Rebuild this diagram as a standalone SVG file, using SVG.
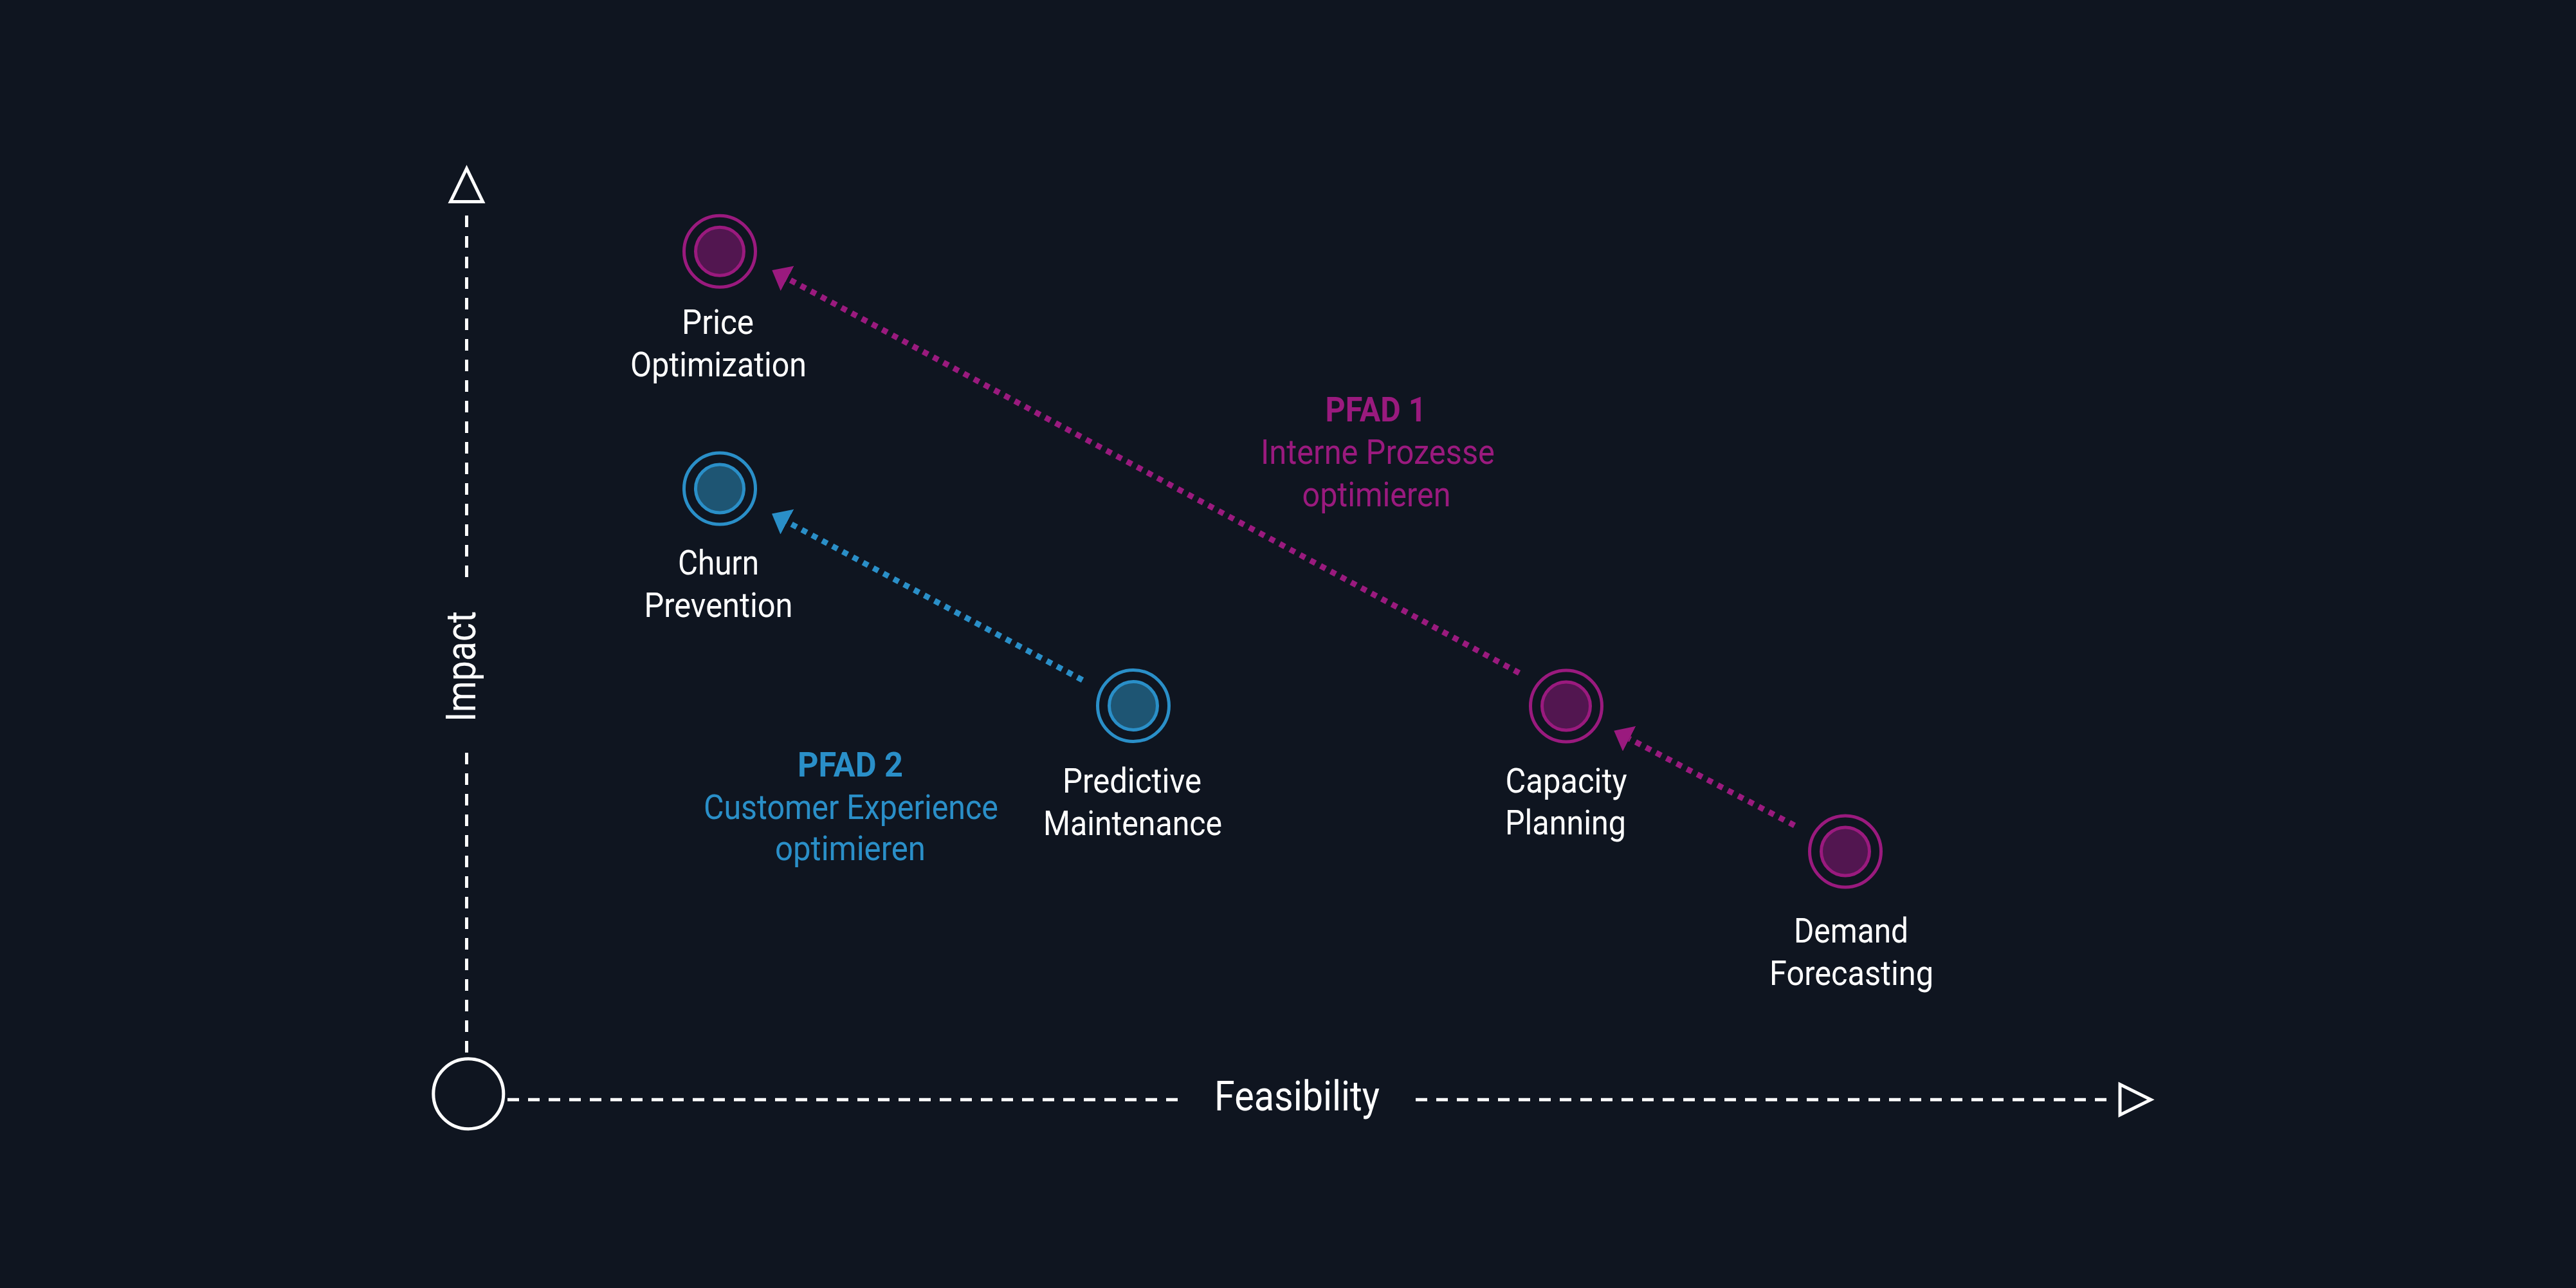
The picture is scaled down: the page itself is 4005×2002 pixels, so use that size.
<svg xmlns="http://www.w3.org/2000/svg" width="4005" height="2002" viewBox="0 0 4005 2002">
<style>
.lbl{font-family:Roboto,"Liberation Sans",sans-serif;font-size:54px;fill:#FFFFFF;text-anchor:middle}
.ax{font-family:Roboto,"Liberation Sans",sans-serif;font-size:64px;fill:#FFFFFF;text-anchor:middle}
.pm{fill:#9A1A7E}
.pb{fill:#2A8FC8}
.bold{font-weight:bold}
.ringM{fill:none;stroke:#9A1A7E;stroke-width:5}
.coreM{fill:#521650;stroke:#9A1A7E;stroke-width:5}
.ringB{fill:none;stroke:#2A8FC8;stroke-width:5}
.coreB{fill:#1E5573;stroke:#2A8FC8;stroke-width:5}
.axis{fill:none;stroke:#FFFFFF;stroke-width:5;stroke-dasharray:18 14}
.axhead{fill:none;stroke:#FFFFFF;stroke-width:5;stroke-linejoin:miter}
.conM{fill:none;stroke:#9A1A7E;stroke-width:9;stroke-dasharray:9 9}
.conB{fill:none;stroke:#2A8FC8;stroke-width:9;stroke-dasharray:9 9}
</style>
<defs>
<marker id="arrM" viewBox="0 -22 27 44" refX="0" refY="0" markerWidth="27" markerHeight="44" markerUnits="userSpaceOnUse" orient="auto">
<path d="M0,-22 L27,0 L0,22 Z" fill="#9A1A7E"/>
</marker>
<marker id="arrB" viewBox="0 -22 27 44" refX="0" refY="0" markerWidth="27" markerHeight="44" markerUnits="userSpaceOnUse" orient="auto">
<path d="M0,-22 L27,0 L0,22 Z" fill="#2A8FC8"/>
</marker>
</defs>
<rect x="0" y="0" width="4005" height="2002" fill="#0F1520"/>

<g id="axes">
<line class="axis" x1="725.5" y1="335" x2="725.5" y2="899"/>
<line class="axis" x1="725.5" y1="1170" x2="725.5" y2="1637"/>
<polygon class="axhead" points="725.5,262 700.5,313.5 750.5,313.5"/>
<line class="axis" x1="789" y1="1709.3" x2="1836" y2="1709.3"/>
<line class="axis" x1="2201" y1="1709.3" x2="3278" y2="1709.3"/>
<polygon class="axhead" points="3296,1685.5 3296,1733 3344,1709.3"/>
<circle id="origin" cx="728.3" cy="1700.3" r="54.5" fill="none" stroke="#FFFFFF" stroke-width="5"/>
<text class="ax" transform="translate(739,1036) rotate(-90)" x="0" y="0" textLength="172" lengthAdjust="spacingAndGlyphs">Impact</text>
<text class="ax" x="2016.5" y="1726" textLength="257" lengthAdjust="spacingAndGlyphs">Feasibility</text>
</g>

<g id="connectors">
<line class="conM" x1="2362" y1="1046" x2="1224.1" y2="432.8" marker-end="url(#arrM)"/>
<line class="conM" x1="2790" y1="1283" x2="2533.2" y2="1148.2" marker-end="url(#arrM)"/>
<line class="conB" x1="1683" y1="1057" x2="1223.8" y2="811.2" marker-end="url(#arrB)"/>
</g>

<g id="price-optimization">
<circle class="ringM" cx="1119" cy="390.8" r="55.5"/>
<circle class="coreM" cx="1119" cy="390.8" r="37.5"/>
<text class="lbl" x="1116" y="519" textLength="112" lengthAdjust="spacingAndGlyphs">Price</text>
<text class="lbl" x="1117" y="585" textLength="274" lengthAdjust="spacingAndGlyphs">Optimization</text>
</g>

<g id="churn-prevention">
<circle class="ringB" cx="1119" cy="759.5" r="55.5"/>
<circle class="coreB" cx="1119" cy="759.5" r="37.5"/>
<text class="lbl" x="1117" y="892.5" textLength="126" lengthAdjust="spacingAndGlyphs">Churn</text>
<text class="lbl" x="1117" y="959" textLength="231" lengthAdjust="spacingAndGlyphs">Prevention</text>
</g>

<g id="predictive-maintenance">
<circle class="ringB" cx="1762" cy="1097" r="55.5"/>
<circle class="coreB" cx="1762" cy="1097" r="37.5"/>
<text class="lbl" x="1760" y="1232" textLength="216" lengthAdjust="spacingAndGlyphs">Predictive</text>
<text class="lbl" x="1761" y="1298" textLength="278" lengthAdjust="spacingAndGlyphs">Maintenance</text>
</g>

<g id="capacity-planning">
<circle class="ringM" cx="2435" cy="1097.5" r="55.5"/>
<circle class="coreM" cx="2435" cy="1097.5" r="37.5"/>
<text class="lbl" x="2435" y="1232" textLength="189" lengthAdjust="spacingAndGlyphs">Capacity</text>
<text class="lbl" x="2434" y="1297" textLength="188" lengthAdjust="spacingAndGlyphs">Planning</text>
</g>

<g id="demand-forecasting">
<circle class="ringM" cx="2869" cy="1323.4" r="55.5"/>
<circle class="coreM" cx="2869" cy="1323.4" r="37.5"/>
<text class="lbl" x="2878" y="1465" textLength="178" lengthAdjust="spacingAndGlyphs">Demand</text>
<text class="lbl" x="2878.5" y="1531" textLength="255" lengthAdjust="spacingAndGlyphs">Forecasting</text>
</g>

<g id="pfad-1">
<text class="lbl pm bold" x="2139" y="655" textLength="157" lengthAdjust="spacingAndGlyphs">PFAD 1</text>
<text class="lbl pm" x="2142" y="721" textLength="364" lengthAdjust="spacingAndGlyphs">Interne Prozesse</text>
<text class="lbl pm" x="2140" y="787" textLength="231" lengthAdjust="spacingAndGlyphs">optimieren</text>
</g>

<g id="pfad-2">
<text class="lbl pb bold" x="1322" y="1207" textLength="164" lengthAdjust="spacingAndGlyphs">PFAD 2</text>
<text class="lbl pb" x="1323" y="1273" textLength="458" lengthAdjust="spacingAndGlyphs">Customer Experience</text>
<text class="lbl pb" x="1322" y="1337" textLength="234" lengthAdjust="spacingAndGlyphs">optimieren</text>
</g>
</svg>
